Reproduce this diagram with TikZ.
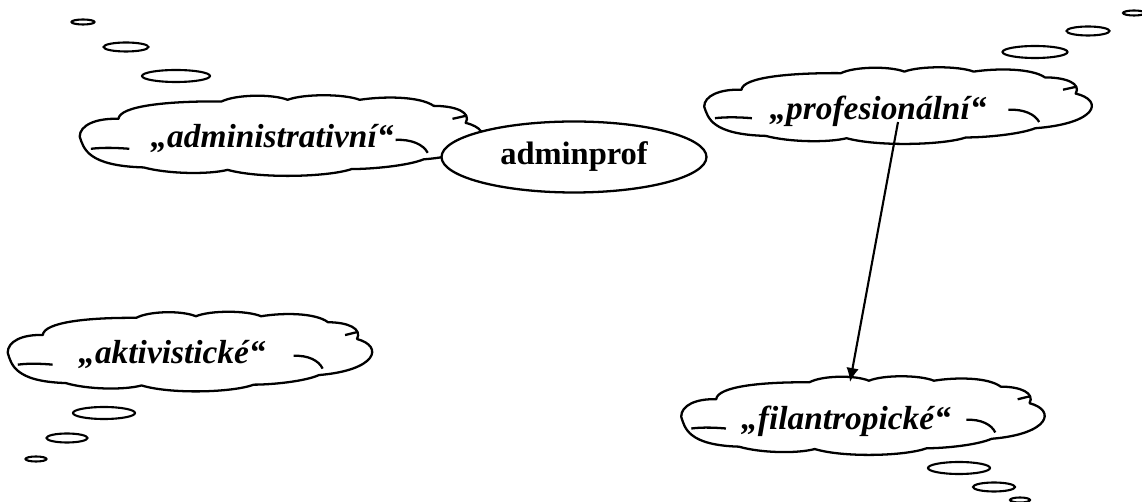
\documentclass[tikz,border=0pt]{standalone}
\usepackage{fontspec}
\setmainfont{Liberation Serif}
\usetikzlibrary{shapes.geometric,arrows.meta}
\tikzset{>=latex}
\tikzset{cloudbox/.style = {shape=rectangle,draw=none,inner sep=0pt}}
\tikzset{cloudline/.style = {draw,fill=white,line width=1.3pt,line join=round}}
\tikzset{bubble/.style = {shape=ellipse,draw,inner sep=0pt,line width=1.2pt}}
\tikzset{word/.style = {font=\fontsize{19}{21}\selectfont\bfseries\itshape,inner sep=1pt}}
% word-like thought cloud drawn in the box of node #1 (#2 x #3 px)
\newcommand{\thoughtcloud}[3]{%
  \begin{scope}[shift={(#1.north west)},x={#2*0.02cm},y={-#3*0.02cm}]
    \path[cloudline] (0,0.5) .. controls (0.01,0.65) and (0.02,0.86) .. (0.16,0.88)
      .. controls (0.22,0.96) and (0.32,0.97) .. (0.37,0.91)
      .. controls (0.45,1.02) and (0.62,1.0) .. (0.68,0.9)
      .. controls (0.73,0.9) and (0.82,0.86) .. (0.86,0.78)
      .. controls (1.02,0.72) and (1.04,0.42) .. (0.965,0.33)
      .. controls (0.98,0.2) and (0.94,0.12) .. (0.885,0.12)
      .. controls (0.85,0.0) and (0.76,0.0) .. (0.7,0.045)
      .. controls (0.66,-0.03) and (0.56,-0.03) .. (0.52,0.045)
      .. controls (0.48,-0.03) and (0.39,-0.02) .. (0.355,0.065)
      .. controls (0.22,0.06) and (0.1,0.12) .. (0.097,0.28)
      .. controls (0.04,0.27) and (0.0,0.36) .. cycle;
    \draw[line width=1.3pt] (0.028,0.65) .. controls (0.06,0.63) and (0.1,0.64) .. (0.124,0.65);
    \draw[line width=1.3pt] (0.79,0.54) .. controls (0.83,0.53) and (0.86,0.6) .. (0.87,0.7);
    \draw[line width=1.3pt] (0.932,0.28) -- (0.968,0.24);
  \end{scope}}

\begin{document}
\begin{tikzpicture}[x=0.02cm,y=-0.02cm]
                \useasboundingbox (0,0) rectangle (1142,502);

                \node[cloudbox,minimum width=8cm,minimum height=1.62cm] (admin) at (280,137) {};
                \node[cloudbox,minimum width=7.7cm,minimum height=1.54cm] (prof) at (897,107) {};
                \node[cloudbox,minimum width=7.24cm,minimum height=1.6cm] (akt) at (189,353) {};
                \node[cloudbox,minimum width=7.22cm,minimum height=1.58cm] (fil) at (862,417) {};
                \thoughtcloud{admin}{400}{81}
                \thoughtcloud{prof}{385}{77}
                \thoughtcloud{akt}{362}{80}
                \thoughtcloud{fil}{361}{79}

                \node[word] (tadmin) at (272,138) {„administrativní“};
                \node[word] (tprof) at (878,111) {„profesionální“};
                \node[word] (takt) at (172,354) {„aktivistické“};
                \node[word] (tfil) at (846,421) {„filantropické“};

                \node[bubble,fill=white,line width=1.3pt,minimum width=5.3cm,minimum height=1.42cm,
                      font=\fontsize{18.5}{20}\selectfont\bfseries] (adminprof) at (574,157) {adminprof};

                % bubbles of the clouds
                \node[bubble,minimum width=0.46cm,minimum height=0.1cm] (a1) at (83,22) {};
                \node[bubble,minimum width=0.9cm,minimum height=0.18cm] (a2) at (126,47) {};
                \node[bubble,minimum width=1.36cm,minimum height=0.24cm] (a3) at (176,76) {};
                \node[bubble,minimum width=0.44cm,minimum height=0.1cm] (p1) at (1134,13) {};
                \node[bubble,minimum width=0.86cm,minimum height=0.18cm] (p2) at (1088,31) {};
                \node[bubble,minimum width=1.3cm,minimum height=0.24cm] (p3) at (1035,52) {};
                \node[bubble,minimum width=1.24cm,minimum height=0.24cm] (k1) at (104,413) {};
                \node[bubble,minimum width=0.82cm,minimum height=0.18cm] (k2) at (67,438) {};
                \node[bubble,minimum width=0.42cm,minimum height=0.1cm] (k3) at (36,459) {};
                \node[bubble,minimum width=1.24cm,minimum height=0.24cm] (f1) at (959,468) {};
                \node[bubble,minimum width=0.84cm,minimum height=0.18cm] (f2) at (994,487) {};
                \node[bubble,minimum width=0.4cm,minimum height=0.1cm] (f3) at (1020,500) {};

                \coordinate (pstart) at (898,122);
                \coordinate (fend) at (850,382);
                \draw[-{Latex[length=2.8mm,width=2.5mm]},line width=1.2pt] (pstart) -- (fend);
            \end{tikzpicture}
\end{document}
